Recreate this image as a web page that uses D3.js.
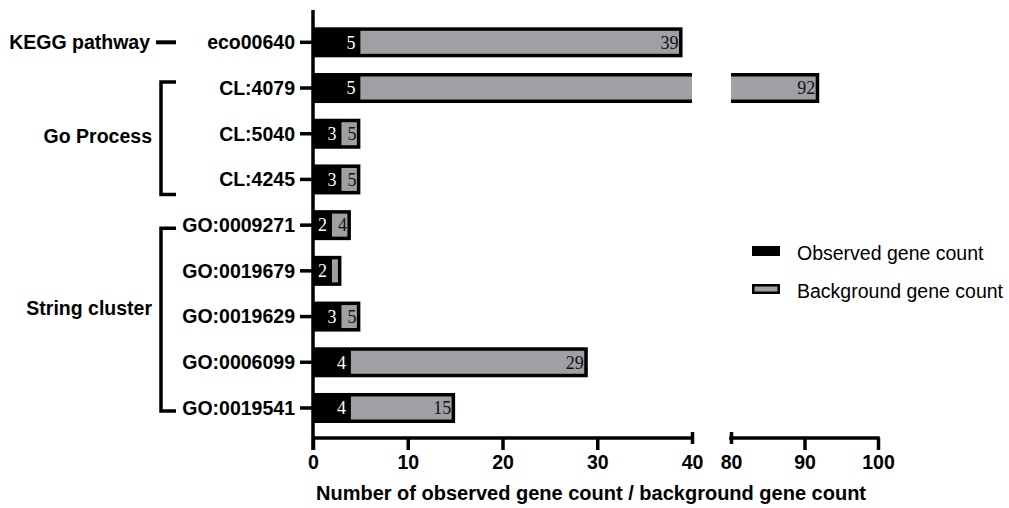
<!DOCTYPE html>
<html>
<head>
<meta charset="utf-8">
<script src="https://cdn.jsdelivr.net/npm/d3@7"></script>
<style>
  html, body { margin: 0; padding: 0; background: #fff; }
  svg { display: block; }
</style>
</head>
<body>
<svg id="chart" width="1009" height="508"></svg>
<script>
// ---- data ----
const categories = ["eco00640", "CL:4079", "CL:5040", "CL:4245", "GO:0009271", "GO:0019679", "GO:0019629", "GO:0006099", "GO:0019541"];
const observed = [5, 5, 3, 3, 2, 2, 3, 4, 4];
const background = [39, 92, 5, 5, 4, 3, 5, 29, 15];
const groupNames = ["KEGG pathway", "Go Process", "String cluster"];
const groupFirst = ["eco00640", "CL:4079", "GO:0009271"];
const groupLast = ["eco00640", "CL:4245", "GO:0019541"];
const ticksLow = [0, 10, 20, 30, 40];
const ticksHigh = [80, 90, 100];
const legendLabels = ["Observed gene count", "Background gene count"];
const xTitle = "Number of observed gene count / background gene count";

// ---- layout / style ----
const GRAY = "#a09fa4";
const AX = 3.5;     // axis stroke width
const BORDER = 3.5; // bar border
const sansBold = "bold 19.5px 'Liberation Sans', Arial, sans-serif";
const serifVal = "18px 'Liberation Serif', 'Times New Roman', serif";
const svg = d3.select("#chart");

const xLow = d3.scaleLinear().domain([0, 40]).range([313, 692]);
const xHigh = d3.scaleLinear().domain([80, 100]).range([731, 878]);
const X = v => v <= 40 ? xLow(v) : xHigh(v);
const axisY = 438;

const y = d3.scaleBand().domain(categories).range([19.45, 430.85])
  .paddingInner(0.3435).paddingOuter(0.172);
const bw = y.bandwidth();
const cy = c => y(c) + bw / 2;

// ---- bars ----
const rows = categories.map((c, i) => ({ c, o: observed[i], b: background[i] }));
const g = svg.append("g");
rows.forEach(d => {
  const top = y(d.c);
  if (d.b <= 40) {
    g.append("rect").attr("x", X(0)).attr("y", top).attr("width", X(d.b) - X(0)).attr("height", bw).attr("fill", "#000");
    g.append("rect").attr("x", X(d.o)).attr("y", top + BORDER)
      .attr("width", Math.max(0, X(d.b) - BORDER - X(d.o))).attr("height", bw - 2 * BORDER).attr("fill", GRAY);
  } else {
    // broken bar
    g.append("rect").attr("x", X(0)).attr("y", top).attr("width", xLow(40) - X(0)).attr("height", bw).attr("fill", "#000");
    g.append("rect").attr("x", X(d.o)).attr("y", top + BORDER)
      .attr("width", xLow(40) - X(d.o)).attr("height", bw - 2 * BORDER).attr("fill", GRAY);
    g.append("rect").attr("x", xHigh(80)).attr("y", top).attr("width", xHigh(d.b) - xHigh(80)).attr("height", bw).attr("fill", "#000");
    g.append("rect").attr("x", xHigh(80)).attr("y", top + BORDER)
      .attr("width", xHigh(d.b) - BORDER - xHigh(80)).attr("height", bw - 2 * BORDER).attr("fill", GRAY);
  }
  // value labels
  g.append("text").attr("x", X(d.o) - 5).attr("y", cy(d.c)).attr("dy", "0.35em")
    .attr("text-anchor", "end").attr("fill", "#fff").style("font", serifVal).text(d.o);
  if (X(d.b) - X(d.o) > 12) {
    g.append("text").attr("x", X(d.b) - 4).attr("y", cy(d.c)).attr("dy", "0.35em")
      .attr("text-anchor", "end").attr("fill", "#111").style("font", serifVal).text(d.b);
  }
});

// ---- y axis ----
const yAxis = svg.append("g").attr("transform", `translate(${X(0)},0)`)
  .call(d3.axisLeft(y).tickSize(13).tickPadding(5));
yAxis.select(".domain").remove();
yAxis.selectAll(".tick line").attr("stroke", "#000").attr("stroke-width", AX);
yAxis.selectAll(".tick text").attr("fill", "#000").attr("dy", "0.35em").style("font", sansBold);
svg.append("line").attr("x1", X(0)).attr("x2", X(0)).attr("y1", 10).attr("y2", axisY + 12)
  .attr("stroke", "#000").attr("stroke-width", AX);

// ---- x axis (broken) ----
function styleX(sel, capValue) {
  sel.select(".domain").remove();
  sel.selectAll(".tick line").attr("stroke", "#000").attr("stroke-width", AX)
    .filter(v => v === capValue).attr("y1", -6).attr("y2", 6);
  sel.selectAll(".tick text").attr("fill", "#000").attr("y", 24).attr("dy", "0.35em").style("font", sansBold);
}
const xa1 = svg.append("g").attr("transform", `translate(0,${axisY})`)
  .call(d3.axisBottom(xLow).tickValues(ticksLow).tickSize(12));
styleX(xa1, 40);
const xa2 = svg.append("g").attr("transform", `translate(0,${axisY})`)
  .call(d3.axisBottom(xHigh).tickValues(ticksHigh).tickSize(12));
styleX(xa2, 80);
svg.append("line").attr("x1", xLow(0)).attr("x2", xLow(40) + AX / 2).attr("y1", axisY).attr("y2", axisY).attr("stroke", "#000").attr("stroke-width", AX);
svg.append("line").attr("x1", xHigh(80) - AX / 2).attr("x2", xHigh(100) + AX / 2).attr("y1", axisY).attr("y2", axisY).attr("stroke", "#000").attr("stroke-width", AX);

svg.append("text").attr("x", 591).attr("y", 493).attr("dy", "0.35em").attr("text-anchor", "middle")
  .style("font", "bold 20px 'Liberation Sans', Arial, sans-serif").text(xTitle);

// ---- group labels & brackets ----
const groupLayout = [
  { labelY: cy(groupFirst[0]), top: null, bottom: null },
  { labelY: 136, top: y(groupFirst[1]) + 9, bottom: y(groupLast[1]) + bw },
  { labelY: 308, top: cy(groupFirst[2]) + 3, bottom: cy(groupLast[2]) + 3 }
];
groupNames.forEach((name, i) => {
  const L = groupLayout[i];
  svg.append("text").attr("x", i === 0 ? 150 : 152).attr("y", L.labelY).attr("dy", "0.35em")
    .attr("text-anchor", "end").attr("fill", "#000").style("font", sansBold).text(name);
  if (L.top === null) {
    svg.append("line").attr("x1", 156).attr("x2", 176).attr("y1", L.labelY).attr("y2", L.labelY)
      .attr("stroke", "#000").attr("stroke-width", 4);
  } else {
    svg.append("path").attr("d", `M176,${L.top}H161V${L.bottom}H176`)
      .attr("fill", "none").attr("stroke", "#000").attr("stroke-width", AX);
  }
});

// ---- legend ----
const legY = [251, 289];
legendLabels.forEach((lab, i) => {
  svg.append("rect").attr("x", 752).attr("y", legY[i] - 5).attr("width", 28).attr("height", 10).attr("fill", "#000");
  if (i === 1) {
    svg.append("rect").attr("x", 754.5).attr("y", legY[i] - 2.5).attr("width", 23).attr("height", 5).attr("fill", GRAY);
  }
  svg.append("text").attr("x", 797).attr("y", legY[i] + 2).attr("dy", "0.35em").attr("fill", "#000")
    .style("font", "19.5px 'Liberation Sans', Arial, sans-serif").text(lab);
});
</script>
</body>
</html>
